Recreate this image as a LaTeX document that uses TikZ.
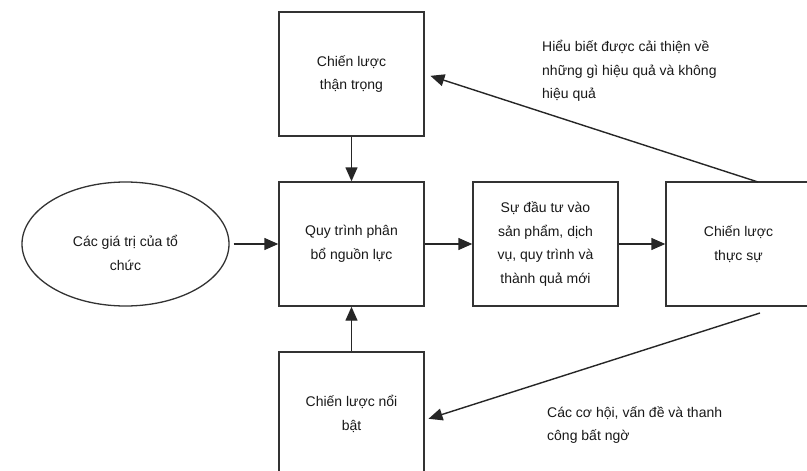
\documentclass[tikz,border=0pt]{standalone}
\usepackage{fontspec}
\setmainfont{Liberation Sans}
\usetikzlibrary{shapes.geometric,arrows.meta}
\begin{document}
\begin{tikzpicture}[x=1pt,y=-1pt,
	font=\fontsize{14}{23.5}\selectfont,text=black!90,
	box/.style={draw=black!80,line width=1.4pt,minimum width=145pt,minimum height=124pt,align=center,inner sep=0pt},
	oval/.style={ellipse,draw=black!80,line width=1.3pt,minimum width=207pt,minimum height=124pt,align=center,inner sep=0pt},
	arrow/.style={draw=black!85,line width=1.4pt,-{Triangle[length=14pt,width=12pt]}}]
	\useasboundingbox (0,0) rectangle (807,471);
	\clip (0,0) rectangle (807,471);
	\fill[white] (0,0) rectangle (807,471);
	\node[box](thantrong) at (351.5,74){Chiến lược\\thận trọng};
	\node[box](quytrinh) at (351.5,244){Quy trình phân\\bổ nguồn lực};
	\node[box](noibat) at (351.5,414){Chiến lược nổi\\bật};
	\node[box](dautu) at (545.5,244){Sự đầu tư vào\\sản phẩm, dịch\\vụ, quy trình và\\thành quả mới};
	\node[box](thucsu) at (738.5,244){Chiến lược\\thực sự};
	\node[oval,label={[align=center,yshift=-9pt]center:Các giá trị của tổ\\chức}](giatri) at (125.5,244){};
	\coordinate (hieubiet) at (758,182);
	\coordinate (coHoi) at (760,313);
	\draw[arrow,shorten <=4pt] (giatri)--(quytrinh);
	\draw[arrow] (quytrinh)--(dautu);
	\draw[arrow] (dautu)--(thucsu);
	\draw[arrow] (thantrong)--(quytrinh);
	\draw[arrow] (noibat)--(quytrinh);
	\draw[arrow,shorten >=6pt] (hieubiet)--(thantrong.east);
	\draw[arrow,shorten >=4pt] (coHoi)--([yshift=-6pt]noibat.east);
	\node[anchor=west,align=left,inner sep=0pt](lbhieubiet) at (542,71){Hiểu biết được cải thiện về\\những gì hiệu quả và không\\hiệu quả};
	\node[anchor=west,align=left,inner sep=0pt](lbcohoi) at (547,425){Các cơ hội, vấn đề và thanh\\công bất ngờ};
\end{tikzpicture}
\end{document}
